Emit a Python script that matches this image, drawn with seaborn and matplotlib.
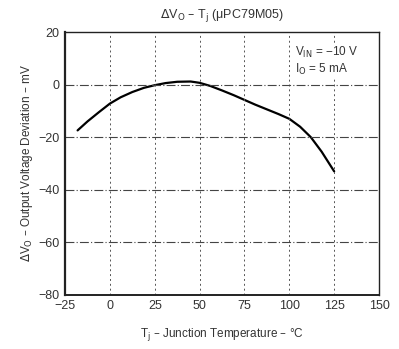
import matplotlib
matplotlib.use("Agg")
import matplotlib.pyplot as plt
import pandas as pd
import seaborn as sns

temp_c = [-18, -12.5, -6, 0, 6, 12.5, 19, 25, 31, 37.5, 45, 50, 56, 62.5, 69, 75, 81, 87.5, 94, 100, 106, 112, 118, 125]
delta_vo_mv = [-17.4, -14.0, -10.4, -7.2, -4.8, -2.8, -1.2, -0.2, 0.6, 1.1, 1.2, 0.7, -0.5, -2.2, -4.0, -5.8, -7.6, -9.4, -11.2, -13.0, -16.0, -20.0, -25.5, -33.0]

x_ticks = [-25, 0, 25, 50, 75, 100, 125, 150]
y_ticks = [-80, -60, -40, -20, 0, 20]

df = pd.DataFrame({'T': temp_c, 'dV': delta_vo_mv})

sns.set_style('white')
plt.rcParams['font.family'] = ['Liberation Sans', 'DejaVu Sans']
txt = '#333333'

fig = plt.figure(figsize=(3.99, 3.49), dpi=100)
ax = fig.add_axes([0.163, 0.155, 0.787, 0.753])

sns.lineplot(data=df, x='T', y='dV', color='black', linewidth=1.6, ax=ax)

ax.set_xlim(-25, 150)
ax.set_ylim(-80, 20)
ax.set_xticks(x_ticks)
ax.set_yticks(y_ticks)
ax.set_yticklabels(['\u221280', '\u221260', '\u221240', '\u221220', '0', '20'])
ax.set_xticklabels(['\u221225', '0', '25', '50', '75', '100', '125', '150'])
ax.tick_params(length=0, labelsize=9, colors=txt, pad=4)

for x in x_ticks[1:-1]:
    ax.axvline(x, color='#555555', linestyle=(0, (2, 3)), linewidth=0.7)
for y in y_ticks[1:-1]:
    ax.axhline(y, color='#444444', linestyle=(0, (8, 2, 1, 2)), linewidth=0.8)

for side, lw in [('left', 1.6), ('bottom', 1.4), ('top', 1.0), ('right', 1.0)]:
    ax.spines[side].set_visible(True)
    ax.spines[side].set_color('#222222')
    ax.spines[side].set_linewidth(lw)

ax.text(0.733, 0.95, 'V$_{\\rm IN}$ = \u221210 V\nI$_{\\rm O}$ = 5 mA', transform=ax.transAxes,
        ha='left', va='top', fontsize=8.5, color=txt, linespacing=1.1,
        bbox=dict(facecolor='white', edgecolor='none', pad=1))

ax.set_title('$\\mathit{\\Delta}$V$_{\\rm O}$ \u2013 T$_{\\rm j}$ (\u03bcPC79M05)', fontsize=9, color=txt, pad=10)
ax.set_xlabel('T$_{\\rm j}$ \u2013 Junction Temperature \u2013 \u00b0C', fontsize=8.5, color=txt, labelpad=10)
ax.set_ylabel('$\\mathit{\\Delta}$V$_{\\rm O}$ \u2013 Output Voltage Deviation \u2013 mV', fontsize=8.5, color=txt, labelpad=2)

fig.savefig('out.png', dpi=100, facecolor='white')
